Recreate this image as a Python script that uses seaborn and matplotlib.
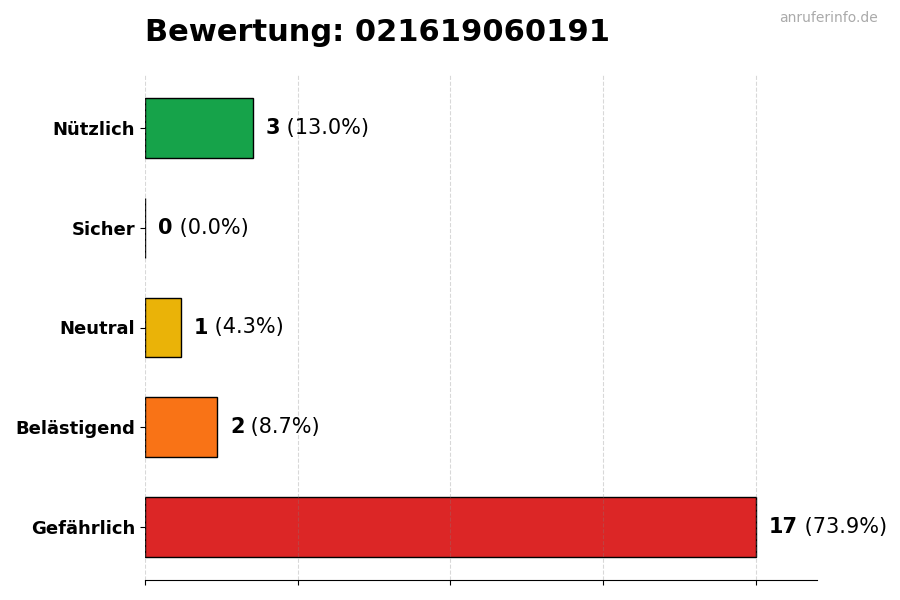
import matplotlib
matplotlib.use("Agg")
import matplotlib.pyplot as plt
import seaborn as sns
import pandas as pd
import numpy as np

categories = ["Nützlich", "Sicher", "Neutral", "Belästigend", "Gefährlich"]
counts = [3, 0, 1, 2, 17]
colors = ["#16a34a", "#64748b", "#eab308", "#f97316", "#dc2626"]
title = "Bewertung: 021619060191"
watermark = "anruferinfo.de"

total = sum(counts)
df = pd.DataFrame({"cat": categories, "n": counts})

fig = plt.figure(figsize=(9, 6), dpi=100)
ax = fig.add_axes([145/900, 1-580/600, (817-145)/900, (580-75)/600])

sns.barplot(data=df, y="cat", x="n", hue="cat", order=categories,
            palette=dict(zip(categories, colors)), legend=False,
            width=0.6, edgecolor="black", linewidth=1, saturation=1, ax=ax)

vmax = max(counts)
ax.set_xlim(0, vmax * 1.1)
ax.set_ylim(len(categories) - 1 + 0.53, -0.53)
ax.set_xticks(np.linspace(0, vmax, 5))
ax.set_xticklabels([])
ax.set_xlabel("")
ax.set_ylabel("")
for s in ["top", "right", "left"]:
    ax.spines[s].set_visible(False)
ax.set_axisbelow(False)
ax.xaxis.grid(True, linestyle="--", color="gray", alpha=0.3, linewidth=0.8)
ax.tick_params(axis="y", labelsize=13)
for lbl in ax.get_yticklabels():
    lbl.set_fontweight("bold")

for i, v in enumerate(counts):
    t1 = ax.annotate(str(v), xy=(v, i), xytext=(9.4, 0), textcoords="offset points",
                     ha="left", va="center", fontsize=15, fontweight="bold")
    pct = 100 * v / total
    ax.annotate(f" ({pct:.1f}%)", xy=(1, 0.5), xycoords=t1, ha="left", va="center",
                fontsize=15)

fig.text(145/900, 1-41/600, title, fontsize=22, fontweight="bold", ha="left", va="baseline")
fig.text(878/900, 1-22/600, watermark, fontsize=10, color="#aaaaaa", ha="right", va="baseline")

fig.savefig("out.png", dpi=100)
